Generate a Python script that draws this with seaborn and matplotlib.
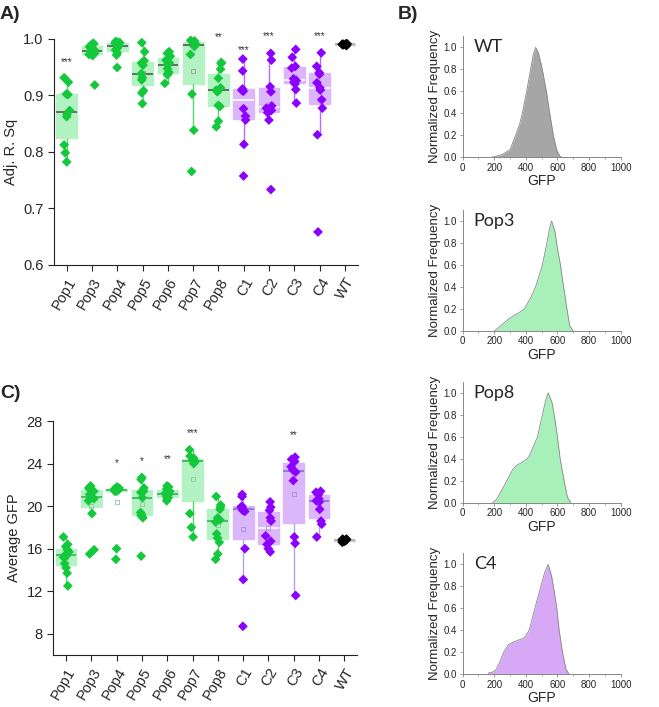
import numpy as np
import pandas as pd
import matplotlib
matplotlib.use('Agg')
import matplotlib.pyplot as plt
from matplotlib.ticker import MultipleLocator
import seaborn as sns

cats = ['Pop1', 'Pop3', 'Pop4', 'Pop5', 'Pop6', 'Pop7', 'Pop8', 'C1', 'C2', 'C3', 'C4', 'WT']
groups = ['Pop'] * 7 + ['C'] * 4 + ['WT']

# A) Adj. R. Sq per replicate
adj_r2 = [
    [0.931, 0.923, 0.902, 0.901, 0.873, 0.866, 0.862, 0.812, 0.798, 0.782],
    [0.992, 0.991, 0.989, 0.986, 0.984, 0.980, 0.978, 0.976, 0.974, 0.972, 0.970, 0.918],
    [0.995, 0.994, 0.993, 0.992, 0.990, 0.988, 0.986, 0.983, 0.980, 0.975, 0.971, 0.949],
    [0.993, 0.977, 0.961, 0.957, 0.953, 0.938, 0.931, 0.927, 0.908, 0.904, 0.885],
    [0.977, 0.974, 0.969, 0.962, 0.957, 0.954, 0.947, 0.941, 0.938, 0.936, 0.921],
    [0.997, 0.996, 0.994, 0.993, 0.990, 0.986, 0.972, 0.902, 0.838, 0.765],
    [0.958, 0.956, 0.946, 0.930, 0.913, 0.909, 0.906, 0.882, 0.880, 0.854, 0.844],
    [0.964, 0.943, 0.911, 0.909, 0.907, 0.876, 0.863, 0.856, 0.813, 0.757],
    [0.974, 0.962, 0.915, 0.906, 0.881, 0.877, 0.873, 0.869, 0.856, 0.733],
    [0.981, 0.967, 0.951, 0.948, 0.929, 0.926, 0.923, 0.920, 0.910, 0.886],
    [0.975, 0.951, 0.940, 0.937, 0.922, 0.913, 0.909, 0.892, 0.877, 0.830, 0.658],
    [0.991, 0.990, 0.990, 0.989, 0.989, 0.988, 0.991, 0.990],
]
r2_stars = ['***', '', '', '', '', '', '**', '***', '***', '', '***', '']
r2_star_y = [0.958, 0, 0, 0, 0, 0, 1.003, 0.979, 1.005, 0, 1.005, 0]

# C) average GFP per replicate
avg_gfp = [
    [17.1, 16.4, 16.2, 15.9, 15.7, 15.5, 15.3, 15.2, 14.6, 14.2, 13.7, 12.5],
    [21.9, 21.7, 21.6, 21.4, 21.1, 20.9, 20.7, 20.5, 19.3, 15.9, 15.5],
    [21.8, 21.7, 21.6, 21.6, 21.5, 21.5, 21.4, 21.4, 16.0, 15.0],
    [22.7, 22.5, 21.7, 21.4, 21.3, 20.8, 19.4, 19.2, 19.1, 18.9, 15.3],
    [21.9, 21.8, 21.6, 21.4, 21.2, 21.1, 21.0, 20.9, 20.8, 20.7, 20.5],
    [25.3, 24.7, 24.5, 24.3, 24.3, 24.2, 24.0, 19.3, 18.0, 17.1],
    [20.9, 20.1, 19.9, 19.7, 18.9, 18.7, 18.5, 17.4, 17.0, 16.6, 15.5, 15.0],
    [21.1, 20.9, 20.0, 19.9, 19.8, 19.6, 19.5, 16.0, 13.1, 8.7],
    [20.4, 19.9, 19.6, 18.9, 18.6, 17.2, 16.7, 16.4, 16.0, 15.7],
    [24.6, 24.4, 24.2, 23.7, 23.4, 23.2, 22.4, 17.1, 16.5, 11.6],
    [21.4, 21.3, 21.1, 20.7, 20.5, 20.4, 19.7, 18.6, 18.3, 17.1],
    [16.9, 16.8, 16.8, 16.7, 16.7, 16.6, 16.8, 16.9],
]
gfp_stars = ['', '', '*', '*', '**', '***', '', '', '', '**', '', '']
gfp_star_y = [0, 0, 24.0, 24.2, 24.4, 26.9, 0, 0, 0, 26.7, 0, 0]

# B) normalized GFP distributions
dist_names = ['WT', 'Pop3', 'Pop8', 'C4']
wt_gfp = [180, 210, 250, 300, 335, 360, 378, 405, 430, 448, 462, 480, 504, 530, 551, 574, 595, 615, 630]
wt_freq = [0, 0.01, 0.025, 0.07, 0.2, 0.3, 0.4, 0.6, 0.8, 0.94, 1.0, 0.95, 0.8, 0.6, 0.4, 0.2, 0.07, 0.01, 0]
pop3_gfp = [200, 220, 260, 301, 350, 391, 430, 462, 505, 533, 550, 563, 585, 600, 619, 639, 660, 677, 699]
pop3_freq = [0, 0.02, 0.07, 0.12, 0.16, 0.2, 0.3, 0.4, 0.6, 0.8, 0.93, 1.0, 0.9, 0.75, 0.6, 0.4, 0.2, 0.05, 0]
pop8_gfp = [189, 215, 242, 280, 316, 340, 368, 400, 421, 450, 474, 505, 525, 541, 555, 568, 585, 600, 617, 642, 663, 684]
pop8_freq = [0, 0.03, 0.1, 0.2, 0.3, 0.34, 0.36, 0.39, 0.42, 0.52, 0.6, 0.8, 0.93, 1.0, 0.95, 0.9, 0.75, 0.6, 0.4, 0.2, 0.05, 0]
c4_gfp = [160, 168, 190, 210, 232, 259, 290, 316, 350, 389, 421, 457, 495, 520, 541, 562, 580, 596, 611, 632, 653, 674]
c4_freq = [0, 0.015, 0.02, 0.04, 0.1, 0.2, 0.27, 0.29, 0.31, 0.33, 0.4, 0.6, 0.8, 0.93, 1.0, 0.9, 0.75, 0.6, 0.4, 0.2, 0.05, 0]

# colours
box_fill = {'Pop': '#b3f2c2', 'C': '#dcb6fb', 'WT': '#d0d0d0'}
point_col = {'Pop': '#14c83c', 'C': '#8c00ff', 'WT': '#000000'}
dist_fill = {'WT': '#a6a6a6', 'Pop3': '#a8f0b9', 'Pop8': '#a8f0b9', 'C4': '#d6a8f6'}

sns.set_style('ticks')
plt.rcParams['font.family'] = ['Liberation Sans', 'DejaVu Sans']


def box_strip(ax, values, ylabel, ylim, yticks, fmt, stars, star_y, med_col, whisk_col, mean_col):
    df = pd.DataFrame({
        'cat': np.repeat(cats, [len(v) for v in values]),
        'val': np.concatenate(values),
    })
    fills = {c: box_fill[g] for c, g in zip(cats, groups)}
    pts = {c: point_col[g] for c, g in zip(cats, groups)}

    sns.boxplot(data=df, x='cat', y='val', hue='cat', order=cats, hue_order=cats,
                palette=fills, saturation=1, dodge=False, legend=False, width=0.82,
                showfliers=False, showcaps=False, showmeans=True,
                meanprops=dict(marker='s', markersize=3, markerfacecolor='none',
                               markeredgewidth=0.6),
                linewidth=1, ax=ax)

    # recolour each box by its group
    for cont in ax.containers:
        if not hasattr(cont, 'medians'):
            continue
        i = int(round(np.mean(cont.medians[0].get_xdata())))
        g = groups[i]
        for b in cont.boxes:
            b.set_edgecolor(box_fill[g])
            b.set_facecolor(box_fill[g])
        for w in cont.whiskers:
            w.set_color(whisk_col[g])
            w.set_linewidth(1)
        for m in cont.medians:
            m.set_color(med_col[cats[i]] if cats[i] in med_col else med_col[g])
            m.set_linewidth(1.2)
        for m in cont.means:
            m.set_markeredgecolor(mean_col[g])
            if g == 'WT':
                m.set_visible(False)

    np.random.seed(7)
    sns.stripplot(data=df, x='cat', y='val', hue='cat', order=cats, hue_order=cats,
                  palette=pts, marker='D', size=5, jitter=0.12, linewidth=0,
                  legend=False, zorder=3, ax=ax)
    for coll in ax.collections:
        coll.set_clip_on(False)

    for i, s in enumerate(stars):
        if s:
            ax.text(i, star_y[i], s, ha='center', va='center', fontsize=7, color='#333333')

    ax.set_ylim(*ylim)
    ax.set_yticks(yticks)
    ax.set_yticklabels([fmt.format(t) for t in yticks])
    ax.set_xlabel('')
    ax.set_ylabel(ylabel, fontsize=10.5)
    ax.set_xticks(range(len(cats)))
    ax.set_xticklabels(cats, rotation=60, ha='right', rotation_mode='anchor')
    ax.tick_params(axis='both', labelsize=10.5, length=4, width=0.8, direction='out')
    sns.despine(ax=ax)
    for sp in ['left', 'bottom']:
        ax.spines[sp].set_linewidth(0.8)
        ax.spines[sp].set_color('#222222')


fig = plt.figure(figsize=(6.59, 7.07), dpi=100)

ax_a = fig.add_axes([0.082, 0.6256, 0.4607, 0.3197])
box_strip(ax_a, adj_r2, 'Adj. R. Sq', (0.6, 1.0), [0.6, 0.7, 0.8, 0.9, 1.0], '{:.1f}',
          r2_stars, r2_star_y,
          med_col={'Pop': '#555555', 'C': '#ffffff', 'WT': '#aaaaaa'},
          whisk_col={'Pop': '#52d86c', 'C': '#b36cff', 'WT': '#aaaaaa'},
          mean_col={'Pop': '#999999', 'C': '#b9a0e0', 'WT': '#999999'})

ax_c = fig.add_axes([0.081, 0.0735, 0.4607, 0.331])
box_strip(ax_c, avg_gfp, 'Average GFP', (6, 28), [8, 12, 16, 20, 24, 28], '{:d}',
          gfp_stars, gfp_star_y,
          med_col={'Pop': '#3fae56', 'C': '#7a74c8', 'C2': '#ffffff', 'WT': '#aaaaaa'},
          whisk_col={'Pop': '#52d86c', 'C': '#aaaadd', 'WT': '#aaaaaa'},
          mean_col={'Pop': '#88cc98', 'C': '#a390d8', 'WT': '#999999'})

# B) distributions
dist_x = [wt_gfp, pop3_gfp, pop8_gfp, c4_gfp]
dist_y = [wt_freq, pop3_freq, pop8_freq, c4_freq]
b_bottoms = [0.7775, 0.532, 0.289, 0.0463]
for name, xs, ys, bot in zip(dist_names, dist_x, dist_y, b_bottoms):
    ax = fig.add_axes([0.702, bot, 0.2398, 0.171])
    ax.fill_between(xs, ys, color=dist_fill[name], linewidth=0)
    sns.lineplot(x=xs, y=ys, color='#888888', linewidth=0.6, ax=ax)
    ax.set_xlim(0, 1000)
    ax.set_ylim(0, 1.1)
    ax.set_xticks(range(0, 1001, 200))
    ax.set_yticks(np.arange(0, 1.01, 0.2))
    ax.set_yticklabels(['{:.1f}'.format(t) for t in np.arange(0, 1.01, 0.2)])
    ax.xaxis.set_minor_locator(MultipleLocator(100))
    ax.tick_params(axis='both', which='major', labelsize=7, length=2.5, width=0.6,
                   color='#888888', pad=1.5)
    ax.tick_params(axis='both', which='minor', length=1.5, width=0.5, color='#888888')
    for sp in ['left', 'bottom']:
        ax.spines[sp].set_linewidth(0.7)
        ax.spines[sp].set_color('#888888')
    sns.despine(ax=ax)
    ax.set_xlabel('GFP', fontsize=10, labelpad=1)
    ax.set_ylabel('Normalized Frequency', fontsize=9.5, labelpad=2)
    ax.text(70, 1.0, name, ha='left', va='center', fontsize=13,
            family=['Lato', 'DejaVu Sans'])

fig.text(0.0, 0.979, 'A)', fontsize=14, fontweight='bold', va='center')
fig.text(0.603, 0.979, 'B)', fontsize=14, fontweight='bold', va='center')
fig.text(0.0, 0.444, 'C)', fontsize=14, fontweight='bold', va='center')

fig.savefig('out.png', dpi=100)
